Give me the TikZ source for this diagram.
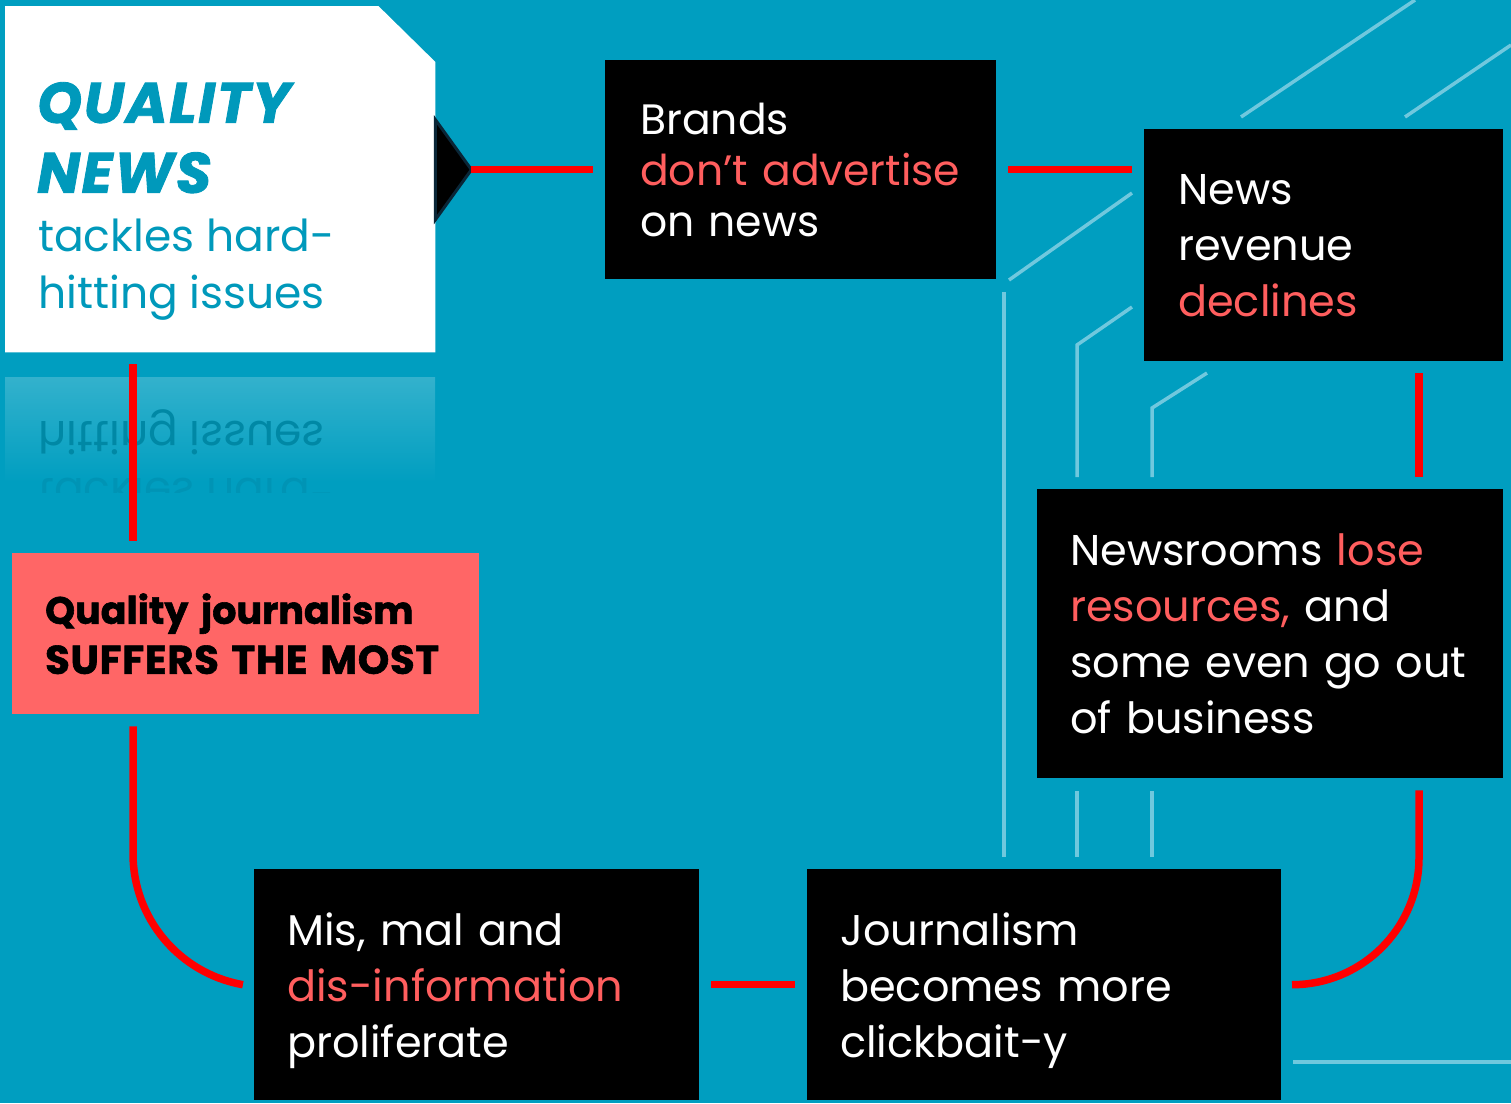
\documentclass[tikz,border=0pt]{standalone}
\usepackage{fontspec}
\setmainfont{Poppins}
\newfontfamily\heavyfont{Poppins}[BoldFeatures={FakeBold=1.5},BoldItalicFeatures={FakeBold=1.5,LetterSpace=3}]
\usetikzlibrary{positioning,calc}
\definecolor{sea}{RGB}{0,158,192}
\definecolor{coral}{RGB}{255,94,94}
\definecolor{salmon}{RGB}{255,102,102}
\definecolor{ink}{RGB}{0,153,187}
\definecolor{pale}{RGB}{112,200,222}
\definecolor{navy}{RGB}{10,38,55}

\begin{document}
\begin{tikzpicture}[x=1pt,y=-1pt,
  panel/.style={fill=black,text=white,anchor=north west,align=left,inner xsep=33pt,inner ysep=0pt,font=\fontsize{43}{56}\selectfont},
  alarm/.style={panel,fill=salmon,text=black,font=\fontsize{38}{50}\selectfont\heavyfont\bfseries},
  head/.style={anchor=north west,align=left,inner sep=0pt,text=ink},
  reflect/.style={anchor=base west,inner sep=0pt,yscale=-1,font=\fontsize{44}{57}\selectfont},
  link/.style={draw=red,line width=7.5pt,shorten <=12pt,shorten >=12pt},
  wire/.style={draw=pale,line width=3.5pt}]
\useasboundingbox (0,0) rectangle (1511,1103);
\fill[sea] (0,0) rectangle (1511,1103);

\draw[wire] (1241,117) -- (1415,0);
\draw[wire] (1405,117) -- (1511,45);
\draw[wire] (1009,280) -- (1132,193);
\draw[wire] (1132,307) -- (1077,345) -- (1077,477);
\draw[wire] (1207,373) -- (1152,408) -- (1152,477);
\draw[wire] (1004,292) -- (1004,857);
\draw[wire] (1077,791) -- (1077,857);
\draw[wire] (1152,791) -- (1152,857);
\draw[wire] (1293,1062) -- (1511,1062);

\node[anchor=north west,minimum width=430pt,minimum height=346pt,inner sep=0pt] (quality) at (5,6) {};
\fill[white] (quality.north west) -- ([xshift=-57pt]quality.north east) -- ([yshift=-56pt]quality.north east) -- (quality.south east) -- (quality.south west) -- cycle;
\node[head,font=\fontsize{57}{70}\selectfont\heavyfont\bfseries\itshape] (title) at (37,82) {QUALITY\\NEWS};
\node[head,font=\fontsize{44}{57}\selectfont] (tagline) at (38,219) {tackles hard-\\hitting issues};

\begin{scope}
\clip (5,377) rectangle (435,492);
\shade[top color=sea!80!white,bottom color=sea] (5,377) rectangle (435,482);
\node[reflect,text=sea!86!black] (mirror1) at (38,421) {hitting issues};
\node[reflect,text=sea!94!black] (mirror2) at (38,478) {tackles hard-};
\end{scope}

\node[panel,text width=321pt,minimum height=219pt,inner xsep=35pt,font=\fontsize{42.5}{51}\selectfont] (brands) at (605,60) {Brands\\\textcolor{coral}{don’t~advertise}\\on~news};
\node[panel,text width=291pt,minimum height=232pt,inner xsep=34pt] (news) at (1144,129) {News\\revenue\\\textcolor{coral}{declines}};
\node[panel,text width=400pt,minimum height=289pt] (newsrooms) at (1037,489) {Newsrooms~\textcolor{coral}{lose}\\\textcolor{coral}{resources,}~and\\some~even~go~out\\of~business};
\node[panel,text width=408pt,minimum height=231pt,text depth=112pt] (journalism) at (807,869) {Journalism\\becomes~more\\clickbait-y};
\node[panel,text width=379pt,minimum height=231pt,text depth=112pt] (mis) at (254,869) {Mis,~mal~and\\\textcolor{coral}{dis-information}\\proliferate};
\node[alarm,text width=401pt,minimum height=161pt] (suffers) at (12,553) {Quality~journalism\\{\fontsize{40}{50}\selectfont\addfontfeature{LetterSpace=2}SUFFERS~THE~MOST}};

\coordinate (tip) at ([xshift=36pt]quality.east |- brands.west);
\coordinate (drop) at (1419,0);
\coordinate (riser) at (133,0);
\filldraw[fill=black,draw=navy,line width=3pt] (tip) -- ([xshift=-36pt,yshift=50pt]tip) -- ([xshift=-36pt,yshift=-50pt]tip) -- cycle;

\draw[link,shorten <=0pt] (tip) -- (brands.west);
\draw[link] (brands.east) -- (brands.east -| news.west);
\draw[link] (drop |- news.south) -- (drop |- newsrooms.north);
\draw[link,shorten >=0pt] (drop |- newsrooms.south) -- ($(drop |- journalism.east)+(0,-127)$) arc[start angle=0,end angle=-90,radius=127pt];
\draw[link] (journalism.west) -- (mis.east);
\draw[link,shorten >=0pt] (riser |- suffers.south) -- ($(riser |- mis.west)+(0,-131)$) arc[start angle=180,end angle=260,radius=133pt];
\draw[link] (riser |- quality.south) -- (riser |- suffers.north);
\end{tikzpicture}
\end{document}
